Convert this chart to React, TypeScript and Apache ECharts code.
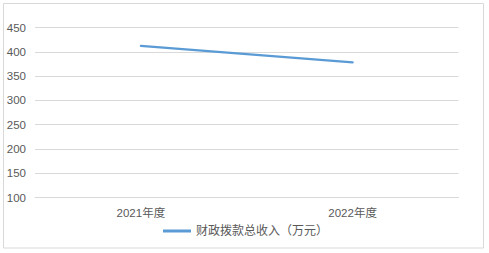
import React, { useEffect, useRef } from "react";
import * as echarts from "echarts";

const categories = ["2021年度", "2022年度"];
const seriesName = "财政拨款总收入（万元）";
const values = [412, 378];
const yMin = 100;
const yMax = 450;
const yInterval = 50;

const FONT = "'Liberation Sans', 'Noto Sans CJK SC', sans-serif";

export default function App() {
  const ref = useRef<HTMLDivElement>(null);
  useEffect(() => {
    if (!ref.current) return;
    const chart = echarts.init(ref.current, undefined, { renderer: "svg" });
    chart.setOption({
      animation: false,
      backgroundColor: "#ffffff",
      textStyle: { fontFamily: FONT },
      graphic: [
        {
          type: "rect",
          shape: { x: 3.5, y: 3.5, width: 480, height: 244.5 },
          style: { fill: "none", stroke: "#d9d9d9", lineWidth: 1 },
          silent: true,
        },
      ],
      grid: { left: 35, right: 30.5, top: 27.5, bottom: 55.5, containLabel: false },
      legend: {
        data: [seriesName],
        left: 163,
        top: 225,
        padding: 0,
        itemWidth: 28,
        itemHeight: 3,
        itemGap: 10,
        icon: "rect",
        textStyle: { color: "#595959", fontSize: 12, fontFamily: FONT },
      },
      xAxis: {
        type: "category",
        data: categories,
        boundaryGap: true,
        axisLine: { show: true, lineStyle: { color: "#d9d9d9", width: 1 } },
        axisTick: { show: false },
        axisLabel: { color: "#595959", fontSize: 11.5, margin: 10, fontFamily: FONT },
      },
      yAxis: {
        type: "value",
        min: yMin,
        max: yMax,
        interval: yInterval,
        axisLine: { show: false },
        axisTick: { show: false },
        axisLabel: { color: "#595959", fontSize: 11.5, margin: 9, fontFamily: FONT },
        splitLine: { lineStyle: { color: "#d9d9d9", width: 1 } },
      },
      series: [
        {
          name: seriesName,
          type: "line",
          data: values,
          showSymbol: false,
          symbol: "none",
          lineStyle: { color: "#5b9bd5", width: 2.25, cap: "round" },
          itemStyle: { color: "#5b9bd5" },
        },
      ],
    });
    return () => chart.dispose();
  }, []);
  return (
    <div
      ref={ref}
      style={{ position: "fixed", left: 0, top: 0, width: 489, height: 253 }}
    />
  );
}
